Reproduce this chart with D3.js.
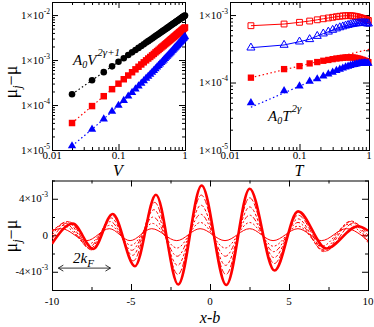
<!DOCTYPE html>
<html>
<head>
<meta charset="utf-8">
<script src="https://cdn.jsdelivr.net/npm/d3@7"></script>
<style>
body { margin: 0; background: #fff; }
text { font-family: "Liberation Serif", "Times New Roman", serif; fill: #000; }
</style>
</head>
<body>
<script>
var width = 374, height = 327;

// ---- top left: mu_j - mu against V ----
var vGrid = [0.02,0.04,0.06,0.08,0.10,0.12,0.14,0.16,0.18,0.20,0.22,0.24,0.26,0.28,0.30,0.32,0.34,0.36,0.38,0.40,
             0.42,0.44,0.46,0.48,0.50,0.52,0.54,0.56,0.58,0.60,0.62,0.64,0.66,0.68,0.70,0.72,0.74,0.76,0.78,0.80,
             0.82,0.84,0.86,0.88,0.90,0.92,0.94,0.96,0.98,1.00];
var muBlack = [1.74e-4,3.55e-4,5.38e-4,7.24e-4,9.12e-4,1.10e-3,1.29e-3,1.48e-3,1.67e-3,1.86e-3,
               2.05e-3,2.25e-3,2.44e-3,2.63e-3,2.82e-3,3.02e-3,3.21e-3,3.41e-3,3.61e-3,3.80e-3,
               4.00e-3,4.19e-3,4.39e-3,4.58e-3,4.79e-3,4.98e-3,5.18e-3,5.37e-3,5.57e-3,5.77e-3,
               5.97e-3,6.17e-3,6.38e-3,6.58e-3,6.76e-3,6.97e-3,7.16e-3,7.36e-3,7.57e-3,7.76e-3,
               7.96e-3,8.17e-3,8.36e-3,8.55e-3,8.77e-3,8.98e-3,9.16e-3,9.36e-3,9.57e-3,9.77e-3];
var muRed = [3.98e-5,9.47e-5,1.57e-4,2.25e-4,2.98e-4,3.74e-4,4.53e-4,5.36e-4,6.21e-4,7.08e-4,
             7.97e-4,8.89e-4,9.84e-4,1.08e-3,1.17e-3,1.27e-3,1.37e-3,1.48e-3,1.58e-3,1.68e-3,
             1.79e-3,1.90e-3,2.01e-3,2.11e-3,2.23e-3,2.34e-3,2.45e-3,2.56e-3,2.68e-3,2.80e-3,
             2.91e-3,3.03e-3,3.15e-3,3.27e-3,3.39e-3,3.51e-3,3.63e-3,3.76e-3,3.88e-3,4.01e-3,
             4.13e-3,4.26e-3,4.38e-3,4.51e-3,4.64e-3,4.78e-3,4.90e-3,5.03e-3,5.16e-3,5.30e-3];
var muBlue = [1.23e-5,2.89e-5,4.89e-5,7.19e-5,9.77e-5,1.26e-4,1.57e-4,1.90e-4,2.25e-4,2.63e-4,
              3.03e-4,3.45e-4,3.90e-4,4.35e-4,4.83e-4,5.34e-4,5.85e-4,6.39e-4,6.97e-4,7.53e-4,
              8.13e-4,8.73e-4,9.39e-4,1.00e-3,1.07e-3,1.14e-3,1.21e-3,1.28e-3,1.35e-3,1.43e-3,
              1.51e-3,1.59e-3,1.67e-3,1.76e-3,1.84e-3,1.92e-3,2.01e-3,2.10e-3,2.19e-3,2.29e-3,
              2.38e-3,2.47e-3,2.57e-3,2.67e-3,2.78e-3,2.88e-3,2.98e-3,3.09e-3,3.20e-3,3.31e-3];

// ---- top right: mu_j - mu against T ----
var tGrid = [0.02,0.06,0.10,0.14,0.18,0.22,0.26,0.30,0.34,0.38,0.42,0.46,0.50,
             0.54,0.58,0.62,0.66,0.70,0.74,0.78,0.82,0.86,0.90,0.94,0.98];
var openRed = [6.95e-4,7.36e-4,7.80e-4,8.15e-4,8.50e-4,8.80e-4,9.05e-4,9.25e-4,9.45e-4,9.60e-4,9.70e-4,9.78e-4,9.80e-4,
               9.78e-4,9.72e-4,9.62e-4,9.50e-4,9.36e-4,9.20e-4,9.05e-4,8.90e-4,8.75e-4,8.60e-4,8.45e-4,8.30e-4];
var openBlue = [3.28e-4,3.60e-4,4.03e-4,4.37e-4,4.88e-4,5.30e-4,5.65e-4,6.00e-4,6.30e-4,6.55e-4,6.75e-4,6.95e-4,7.10e-4,
                7.25e-4,7.35e-4,7.45e-4,7.50e-4,7.55e-4,7.58e-4,7.60e-4,7.60e-4,7.58e-4,7.55e-4,7.50e-4,7.45e-4];
var fillRed = [1.18e-4,1.58e-4,1.75e-4,1.92e-4,2.01e-4,2.10e-4,2.16e-4,2.22e-4,2.27e-4,2.30e-4,2.33e-4,2.35e-4,2.36e-4,
               2.36e-4,2.35e-4,2.33e-4,2.30e-4,2.27e-4,2.23e-4,2.19e-4,2.15e-4,2.11e-4,2.07e-4,2.03e-4,2.00e-4];
var fillBlue = [5.00e-5,7.55e-5,8.87e-5,1.04e-4,1.13e-4,1.24e-4,1.33e-4,1.42e-4,1.50e-4,1.57e-4,1.63e-4,1.69e-4,1.74e-4,
                1.78e-4,1.82e-4,1.85e-4,1.88e-4,1.90e-4,1.92e-4,1.93e-4,1.94e-4,1.94e-4,1.94e-4,1.93e-4,1.93e-4];
var fitRed = [[0.02,1.18e-4],[1,3.1e-4]];
var fitBlue = [[0.02,4.3e-5],[1,2.47e-4]];

// ---- bottom: profiles, extrema (x-b, value in 1e-3) ----
var profThick = [[-10,-0.92],[-8.69,1.27],[-7.39,-1.50],[-6.16,2.33],[-4.75,-3.39],[-3.42,4.44],[-2.01,-5.40],[-0.53,5.46],
                 [1.03,-5.46],[2.51,5.09],[4.09,-3.87],[5.57,2.62],[7.36,-1.46],[9.37,0.98],[10,0.50]];
var profD1 = [[-10,-0.4],[-8.9,1.45],[-7.5,-1.6],[-6.2,2.2],[-4.85,-2.8],[-3.5,3.6],[-2.03,-4.3],[-0.55,4.4],
              [1.01,-4.3],[2.51,4.1],[4.07,-3.1],[5.57,2.2],[7.3,-1.75],[9.1,1.35],[10,0.0]];
var profD2 = [[-10,0.0],[-9.05,1.5],[-7.6,-1.5],[-6.25,1.9],[-4.9,-2.2],[-3.55,2.8],[-2.05,-3.3],[-0.57,3.3],
              [0.99,-3.3],[2.51,3.1],[4.05,-2.45],[5.57,1.8],[7.2,-1.8],[8.95,1.55],[10,-0.4]];
var profD3 = [[-10,0.3],[-9.2,1.35],[-7.65,-1.3],[-6.3,1.5],[-4.95,-1.65],[-3.6,2.0],[-2.07,-2.3],[-0.59,2.3],
              [0.97,-2.3],[2.51,2.2],[4.03,-1.8],[5.57,1.4],[7.15,-1.6],[8.85,1.5],[10,-0.7]];
var profD4 = [[-10,0.5],[-9.3,1.1],[-7.7,-1.0],[-6.33,1.1],[-5.0,-1.1],[-3.65,1.3],[-2.09,-1.4],[-0.61,1.4],
              [0.96,-1.4],[2.51,1.4],[4.01,-1.2],[5.57,1.0],[7.1,-1.2],[8.75,1.2],[10,-0.8]];
var profThin = [[-10,0.55],[-9.4,0.72],[-7.8,-0.59],[-6.37,0.72],[-5.06,-0.59],[-3.69,0.72],[-2.1,-0.59],[-0.63,0.72],
                [0.95,-0.59],[2.51,0.72],[3.99,-0.59],[5.57,0.72],[7.05,-0.59],[8.63,0.72],[10,-0.6]];

var logMajor = [1e-5,1e-4,1e-3,1e-2];
var xLogLabels = ["0.01","0.1","1"];
var xLinMajor = [-10,-5,0,5,10];
var xLinMinor = [-7.5,-2.5,2.5,7.5];
var yLinMajor = [-4,0,4];
var yLinMinor = [-6,-2,2,6];

var svg = d3.select("body").append("svg")
    .attr("width", width)
    .attr("height", height);

// scales
var xV = d3.scaleLog().domain([0.01, 1]).range([52, 185]);
var yV = d3.scaleLog().domain([1e-5, 1.95e-2]).range([150, 2]);
var xT = d3.scaleLog().domain([0.01, 1]).range([230, 369]);
var yT = d3.scaleLog().domain([1e-5, 1.56e-3]).range([150, 2]);
var xB = d3.scaleLinear().domain([-10, 10]).range([52, 368]);
var yB = d3.scaleLinear().domain([-6, 6]).range([290, 180.5]);

//inward ticks on all four sides
function tickSet(g, axis, tr, vals, len) {
  g.append("g").attr("transform", tr)
    .call(axis.tickValues(vals).tickSize(-len).tickSizeOuter(0).tickFormat(""))
    .call(function(s) { s.select(".domain").remove(); });
}
function frame(x, y, xMaj, xMin, yMaj, yMin) {
  var g = svg.append("g");
  var xr = x.range(), yr = y.range();
  tickSet(g, d3.axisBottom(x), "translate(0," + yr[0] + ")", xMin, 3);
  tickSet(g, d3.axisBottom(x), "translate(0," + yr[0] + ")", xMaj, 6);
  tickSet(g, d3.axisTop(x), "translate(0," + yr[1] + ")", xMin, 3);
  tickSet(g, d3.axisTop(x), "translate(0," + yr[1] + ")", xMaj, 6);
  tickSet(g, d3.axisLeft(y), "translate(" + xr[0] + ",0)", yMin, 3);
  tickSet(g, d3.axisLeft(y), "translate(" + xr[0] + ",0)", yMaj, 6);
  tickSet(g, d3.axisRight(y), "translate(" + xr[1] + ",0)", yMin, 3);
  tickSet(g, d3.axisRight(y), "translate(" + xr[1] + ",0)", yMaj, 6);
  g.append("rect")
    .attr("x", xr[0] + 0.5).attr("y", yr[1] + 0.5)
    .attr("width", xr[1] - xr[0]).attr("height", yr[0] - yr[1])
    .attr("fill", "none").attr("stroke", "#000").attr("stroke-width", 1);
}

function sciLabel(x, y, mant, ex) {
  var t = svg.append("text").attr("x", x).attr("y", y).attr("dy", "0.32em")
    .attr("text-anchor", "end").style("font-size", "11px");
  t.append("tspan").text(mant);
  if (ex) t.append("tspan").attr("dy", -5).style("font-size", "7.5px").text(ex);
}

function yTitle(cx, cy) {
  var t = svg.append("text")
    .attr("transform", "translate(" + cx + "," + cy + ") rotate(-90)")
    .attr("text-anchor", "middle").style("font-size", "18px");
  t.append("tspan").text("μ");
  t.append("tspan").attr("dy", 4).style("font-size", "12px").style("font-style", "italic").text("j");
  t.append("tspan").attr("dy", -4).text("−μ");
}

function logMinor(sc) {
  return sc.ticks().filter(function(d) { return logMajor.indexOf(d) < 0 && [0.01,0.1,1].indexOf(d) < 0; });
}

// frames
frame(xV, yV, [0.01, 0.1, 1], logMinor(xV), logMajor, logMinor(yV));
frame(xT, yT, [0.01, 0.1, 1], logMinor(xT), logMajor, logMinor(yT));
frame(xB, yB, xLinMajor, xLinMinor, yLinMajor, yLinMinor);

// tick labels
logMajor.forEach(function(d) {
  sciLabel(50, yV(d), "1×10", "-" + (-Math.log10(d)).toFixed(0));
});
logMajor.slice(0, 3).forEach(function(d) {
  sciLabel(228, yT(d), "1×10", "-" + (-Math.log10(d)).toFixed(0));
});
[0.01, 0.1, 1].forEach(function(d, i) {
  svg.append("text").attr("x", xV(d)).attr("y", 159).attr("text-anchor", "middle")
    .style("font-size", "11px").text(xLogLabels[i]);
  svg.append("text").attr("x", xT(d)).attr("y", 159).attr("text-anchor", "middle")
    .style("font-size", "11px").text(xLogLabels[i]);
});
xLinMajor.forEach(function(d) {
  svg.append("text").attr("x", xB(d)).attr("y", 305).attr("text-anchor", "middle")
    .style("font-size", "11px").text(d < 0 ? "-" + (-d) : d);
});
sciLabel(48, yB(4), "4×10", "-3");
sciLabel(48, yB(0), "0", null);
sciLabel(48, yB(-4), "-4×10", "-3");

// axis titles
svg.append("text").attr("x", 118).attr("y", 176).attr("text-anchor", "middle")
  .style("font-size", "16px").style("font-style", "italic").text("V");
svg.append("text").attr("x", 299).attr("y", 176).attr("text-anchor", "middle")
  .style("font-size", "16px").style("font-style", "italic").text("T");
svg.append("text").attr("x", 210).attr("y", 323).attr("text-anchor", "middle")
  .style("font-size", "16px").style("font-style", "italic").text("x-b");
yTitle(17, 82);
yTitle(17, 236);

// ---- top left marks ----
var dotted = "1.5,2.5";
var gV = svg.append("g");
function seriesV(vals, color, sym, size) {
  var pts = vGrid.map(function(v, i) { return [v, vals[i]]; });
  gV.append("path").datum(pts)
    .attr("fill", "none").attr("stroke", color).attr("stroke-width", 1.2)
    .attr("stroke-dasharray", dotted)
    .attr("d", d3.line().x(function(d) { return xV(d[0]); }).y(function(d) { return yV(d[1]); }));
  gV.selectAll(null).data(pts).enter().append("path")
    .attr("transform", function(d) { return "translate(" + xV(d[0]) + "," + yV(d[1]) + ")"; })
    .attr("d", d3.symbol().type(sym).size(size))
    .attr("fill", color);
}
seriesV(muBlack, "#000", d3.symbolCircle, 34);
seriesV(muRed, "#ff0000", d3.symbolSquare, 42);
seriesV(muBlue, "#0000ff", d3.symbolTriangle, 30);

// ---- top right marks ----
var gT = svg.append("g");
var lineT = d3.line().x(function(d) { return xT(d[0]); }).y(function(d) { return yT(d[1]); });
function seriesT(vals, color, sym, size, open) {
  var pts = tGrid.map(function(t, i) { return [t, vals[i]]; });
  if (open) {
    gT.append("path").datum(pts).attr("fill", "none").attr("stroke", color)
      .attr("stroke-width", 1).attr("d", lineT);
  }
  gT.selectAll(null).data(pts).enter().append("path")
    .attr("transform", function(d) { return "translate(" + xT(d[0]) + "," + yT(d[1]) + ")"; })
    .attr("d", d3.symbol().type(sym).size(size))
    .attr("fill", open ? "none" : color)
    .attr("stroke", open ? color : "none");
}
[[fitRed, "#ff0000"], [fitBlue, "#0000ff"]].forEach(function(f) {
  gT.append("path").datum(f[0]).attr("fill", "none").attr("stroke", f[1])
    .attr("stroke-width", 1.2).attr("stroke-dasharray", dotted).attr("d", lineT);
});
seriesT(openRed, "#ff0000", d3.symbolSquare, 34, true);
seriesT(openBlue, "#0000ff", d3.symbolTriangle, 28, true);
seriesT(fillRed, "#ff0000", d3.symbolSquare, 40, false);
seriesT(fillBlue, "#0000ff", d3.symbolTriangle, 30, false);

// ---- bottom curves ----
svg.append("clipPath").attr("id", "clipB").append("rect")
  .attr("x", 52).attr("y", 180.5).attr("width", 316).attr("height", 109.5);
var gB = svg.append("g").attr("clip-path", "url(#clipB)");
var lineB = d3.line().x(function(d) { return xB(d[0]); }).y(function(d) { return yB(d[1]); })
  .curve(d3.curveMonotoneX);
var profiles = [
  [profThin, 1, null],
  [profD4, 1, "2,2"],
  [profD3, 1, "5,2,2,2"],
  [profD2, 1, "3,2"],
  [profD1, 1, "6,2"],
  [profThick, 2.6, null]
];
profiles.forEach(function(p) {
  gB.append("path").datum(p[0])
    .attr("fill", "none").attr("stroke", "#ff0000")
    .attr("stroke-width", p[1])
    .attr("stroke-dasharray", p[2])
    .attr("d", lineB);
});

// 2kF arrow
var ay = yB(-3.6), ax0 = xB(-9.6), ax1 = xB(-6.3);
svg.append("path")
  .attr("d", "M" + ax0 + "," + ay + "H" + ax1 +
             "M" + (ax0 + 5) + "," + (ay - 3) + "L" + ax0 + "," + ay + "L" + (ax0 + 5) + "," + (ay + 3) +
             "M" + (ax1 - 5) + "," + (ay - 3) + "L" + ax1 + "," + ay + "L" + (ax1 - 5) + "," + (ay + 3))
  .attr("fill", "none").attr("stroke", "#000").attr("stroke-width", 0.8);
var k = svg.append("text").attr("x", 73).attr("y", 263).style("font-size", "15px").style("font-style", "italic");
k.append("tspan").text("2k");
k.append("tspan").attr("dy", 4).style("font-size", "11px").text("F");

// power law labels
var a1 = svg.append("text").attr("x", 73).attr("y", 65).style("font-size", "15px").style("font-style", "italic");
a1.append("tspan").text("A");
a1.append("tspan").attr("dy", 3).style("font-size", "10px").text("0");
a1.append("tspan").attr("dy", -3).text("V");
a1.append("tspan").attr("dy", -9).attr("dx", 1).style("font-size", "11px").text("2γ+1");

var a2 = svg.append("text").attr("x", 268).attr("y", 121).style("font-size", "15px").style("font-style", "italic");
a2.append("tspan").text("A");
a2.append("tspan").attr("dy", 3).style("font-size", "10px").text("0");
a2.append("tspan").attr("dy", -3).text("T");
a2.append("tspan").attr("dy", -9).attr("dx", 1).style("font-size", "11px").text("2γ");
</script>
</body>
</html>
